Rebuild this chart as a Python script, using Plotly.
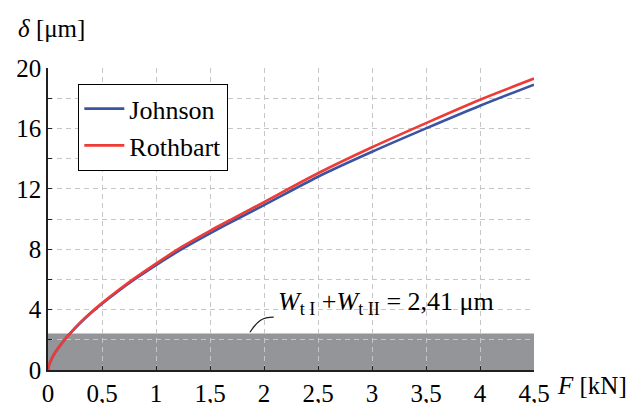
import plotly.graph_objects as go

# Data
F = [0, 0.01, 0.03, 0.06, 0.1, 0.15, 0.2, 0.3, 0.4, 0.5, 0.65, 0.8, 1.0, 1.25, 1.5,
     1.75, 2.0, 2.5, 3.0, 3.5, 4.0, 4.5]
delta_rothbart = [0, 0.32, 0.68, 1.08, 1.5, 1.97, 2.39, 3.15, 3.82, 4.43, 5.28, 6.07,
                  7.05, 8.2, 9.22, 10.17, 11.12, 13.03, 14.75, 16.35, 17.9, 19.3]
delta_johnson = [0, 0.32, 0.68, 1.08, 1.5, 1.97, 2.39, 3.13, 3.79, 4.39, 5.22, 5.99,
                 6.95, 8.05, 9.05, 10.0, 10.92, 12.8, 14.45, 16.0, 17.5, 18.9]
band_top = 2.41  # W_tI + W_tII

x_ticks = [0, 0.5, 1, 1.5, 2, 2.5, 3, 3.5, 4, 4.5]
x_ticktext = ["0", "0,5", "1", "1,5", "2", "2,5", "3", "3,5", "4", "4,5"]
y_ticks = [0, 2, 4, 6, 8, 10, 12, 14, 16, 18, 20]
y_ticktext = ["0", "", "4", "", "8", "", "12", "", "16", "", "20"]

FONT = "Liberation Serif"
SIZE = 25
BLUE = "#3a54a4"
RED = "#ee3b36"
AXIS = "#231f20"
GRID = "#c6c6c6"
TXT = "#000000"

fig = go.Figure()
fig.add_trace(go.Scatter(x=F, y=delta_johnson, mode="lines", name="Johnson",
                         line=dict(color=BLUE, width=2.6, shape="spline", smoothing=0.8)))
fig.add_trace(go.Scatter(x=F, y=delta_rothbart, mode="lines", name="Rothbart",
                         line=dict(color=RED, width=2.6, shape="spline", smoothing=0.8)))

fig.add_shape(type="rect", xref="x", yref="y", x0=0, x1=4.5, y0=0, y1=band_top,
              fillcolor="#939598", line=dict(width=0), layer="below")
# leader line for the annotation
fig.add_shape(type="path", xref="x", yref="y",
              path="M 1.87,2.5 C 1.94,3.25 1.98,3.5 2.09,3.5",
              line=dict(color=AXIS, width=1.3))

fig.add_annotation(x=2.11, y=4.45, xref="x", yref="y", xanchor="left", yanchor="middle",
                   showarrow=False,
                   text="<i>W</i><sub>t I</sub> +<i>W</i><sub>t II</sub> = 2,41 μm",
                   font=dict(family=FONT, size=26, color=TXT))
fig.add_annotation(x=-0.066, y=1.0, xref="paper", yref="paper", xanchor="left",
                   yanchor="middle", yshift=40, showarrow=False,
                   text="<i>δ</i> [μm]", font=dict(family=FONT, size=SIZE, color=TXT))
fig.add_annotation(x=1.0, y=0, xref="paper", yref="paper", xanchor="left",
                   yanchor="middle", xshift=21, yshift=-15, showarrow=False,
                   text="<i>F</i> [kN]", font=dict(family=FONT, size=SIZE, color=TXT))

fig.update_xaxes(range=[0, 4.5], tickmode="array", tickvals=x_ticks, ticktext=x_ticktext,
                 showline=True, linecolor=AXIS, linewidth=1.5,
                 ticks="inside", ticklen=4, tickcolor=AXIS, tickwidth=1.2,
                 showgrid=True, gridcolor=GRID, gridwidth=1, griddash="5px,4px",
                 zeroline=False,
                 tickfont=dict(family=FONT, size=SIZE, color=TXT))
fig.update_yaxes(range=[0, 20], tickmode="array", tickvals=y_ticks, ticktext=y_ticktext,
                 showline=True, linecolor=AXIS, linewidth=1.5,
                 ticks="inside", ticklen=4, tickcolor=AXIS, tickwidth=1.2,
                 showgrid=True, gridcolor=GRID, gridwidth=1, griddash="5px,4px",
                 zeroline=False,
                 tickfont=dict(family=FONT, size=SIZE, color=TXT))

fig.update_layout(
    width=634, height=403,
    margin=dict(l=48, r=100, t=68, b=33, pad=0, autoexpand=False),
    paper_bgcolor="white", plot_bgcolor="white",
    font=dict(family=FONT, size=SIZE, color=TXT),
    legend=dict(x=0.062, y=0.947, xanchor="left", yanchor="top",
                bgcolor="white", bordercolor="black", borderwidth=1.2,
                font=dict(family=FONT, size=26, color=TXT),
                tracegroupgap=0, itemwidth=40),
    showlegend=True,
)

fig.write_html("out.html")
